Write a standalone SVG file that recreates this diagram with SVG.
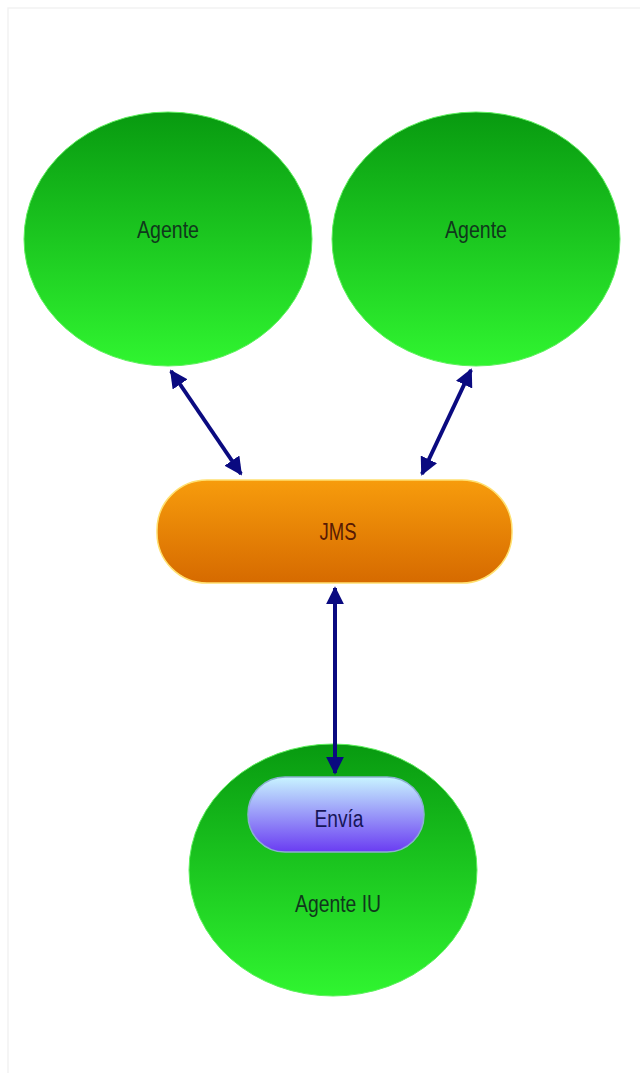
<svg xmlns="http://www.w3.org/2000/svg" width="640" height="1073" viewBox="0 0 640 1073">
<style>
.lbl{font-family:"Liberation Sans",Arial,sans-serif;text-anchor:middle;font-size:23px}
.conn{stroke:#0a0a80;stroke-width:4;fill:none;marker-start:url(#ah);marker-end:url(#ah)}
</style>
<defs>
<linearGradient id="gG" x1="0" y1="0" x2="0" y2="1"><stop offset="0" stop-color="#089a10"/><stop offset="1" stop-color="#30f530"/></linearGradient>
<linearGradient id="gO" x1="0" y1="0" x2="0" y2="1"><stop offset="0" stop-color="#f79c0c"/><stop offset="1" stop-color="#d66a00"/></linearGradient>
<linearGradient id="gB" x1="0" y1="0" x2="0" y2="1"><stop offset="0" stop-color="#c8f4ff"/><stop offset="1" stop-color="#6a3cf2"/></linearGradient>
<marker id="ah" viewBox="0 0 10 10" refX="9" refY="5" markerWidth="4.5" markerHeight="4.5" orient="auto-start-reverse" markerUnits="strokeWidth"><path d="M0,0 L10,5 L0,10 Z" fill="#0a0a80"/></marker>
</defs>
<rect x="0" y="0" width="640" height="1073" fill="#ffffff"/>
<rect x="8" y="8" width="640" height="1080" fill="none" stroke="#f2f2f2" stroke-width="1.5"/>
<g id="agente1">
<ellipse cx="168" cy="239" rx="144" ry="127" fill="url(#gG)" stroke="#5ef05e" stroke-width="1"/>
<text class="lbl" x="168" y="238" fill="#10381c" textLength="62" lengthAdjust="spacingAndGlyphs">Agente</text>
</g>
<g id="agente2">
<ellipse cx="476" cy="239" rx="144" ry="127" fill="url(#gG)" stroke="#5ef05e" stroke-width="1"/>
<text class="lbl" x="476" y="238" fill="#10381c" textLength="62" lengthAdjust="spacingAndGlyphs">Agente</text>
</g>
<g id="jms">
<rect x="157" y="480" width="355" height="103" rx="50" ry="50" fill="url(#gO)" stroke="#ffe070" stroke-width="1.5"/>
<text class="lbl" x="338" y="540" fill="#581a04" textLength="37" lengthAdjust="spacingAndGlyphs">JMS</text>
</g>
<g id="agenteIU">
<ellipse cx="333" cy="870" rx="144" ry="126" fill="url(#gG)" stroke="#5ef05e" stroke-width="1"/>
<text class="lbl" x="338" y="912" fill="#10381c" textLength="86" lengthAdjust="spacingAndGlyphs">Agente IU</text>
</g>
<g id="envia">
<rect x="248" y="777" width="176" height="75" rx="37" ry="37" fill="url(#gB)" stroke="#8ab0d0" stroke-width="1.5"/>
<text class="lbl" x="339" y="827" fill="#161658" textLength="49" lengthAdjust="spacingAndGlyphs">Envía</text>
</g>
<g id="connectors">
<line class="conn" x1="171" y1="371" x2="241" y2="474"/>
<line class="conn" x1="471" y1="370" x2="422" y2="474"/>
<line class="conn" x1="335" y1="588" x2="335" y2="773"/>
</g>
</svg>
